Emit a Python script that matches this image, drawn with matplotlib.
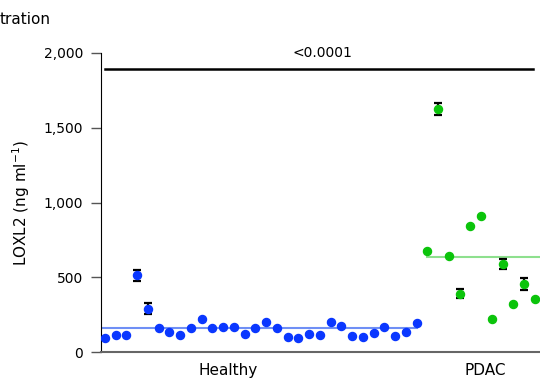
import matplotlib.pyplot as plt
import numpy as np

plt.rcParams['font.family'] = ['DejaVu Sans']

healthy = [94, 116, 116, 513, 290, 158, 136, 116, 158, 221,
           158, 165, 169, 118, 158, 198, 158, 98, 94, 122,
           116, 198, 174, 107, 103, 125, 165, 109, 132, 196]
healthy_err = [0, 0, 0, 38, 35, 0, 0, 0, 0, 0,
               0, 0, 0, 0, 0, 0, 0, 0, 0, 0,
               0, 0, 0, 0, 0, 0, 0, 0, 0, 0]
pdac = [678, 1627, 640, 390, 841, 910, 221, 589, 321, 455, 354]
pdac_err = [0, 40, 0, 32, 0, 0, 0, 32, 0, 38, 0]
group_labels = ['Healthy', 'PDAC']
p_text = '<0.0001'

blue = '#0a37ff'
green = '#0bc40b'

fig = plt.figure(figsize=(5.4, 3.83), dpi=100)
ax = fig.add_axes([101 / 540, 31 / 383, 439 / 540, 299 / 383])

xh = np.arange(len(healthy))
xp = np.arange(len(pdac)) + len(healthy)

ax.errorbar(xh, healthy, yerr=healthy_err, fmt='o', color=blue, ms=5.8,
            ecolor='black', elinewidth=1.6, capsize=3, capthick=1.6, zorder=3)
ax.errorbar(xp, pdac, yerr=pdac_err, fmt='o', color=green, ms=5.8,
            ecolor='black', elinewidth=1.6, capsize=3, capthick=1.6, zorder=3)

# group means
ax.plot([-0.4, xh[-1]], [np.mean(healthy)] * 2, color='#6f8ff5', lw=1.5, zorder=2)
ax.plot([xp[0], 41], [np.mean(pdac)] * 2, color='#8ee08e', lw=1.5, zorder=2)

# significance bar
ax.plot([0, 39.8], [1893, 1893], color='black', lw=1.8, clip_on=False)
ax.text(20.2, 1950, p_text, ha='center', va='bottom', fontsize=10)

ax.set_xlim(-0.37, 40.47)
ax.set_ylim(0, 2000)
ax.set_yticks([0, 500, 1000, 1500, 2000])
ax.set_yticklabels(['0', '500', '1,000', '1,500', '2,000'])
ax.set_xticks([11.5, 35.4])
ax.set_xticklabels(group_labels, fontsize=11)
ax.tick_params(axis='x', length=0, pad=8)
ax.tick_params(axis='y', length=7, width=1, color='#555555', labelsize=10, pad=6)
ax.set_ylabel('LOXL2 (ng ml$^{-1}$)', fontsize=11, labelpad=8)

for s in ['top', 'right']:
    ax.spines[s].set_visible(False)
ax.spines['left'].set_color('black')
ax.spines['bottom'].set_color('#666666')
ax.spines['bottom'].set_linewidth(1.5)

fig.text(0, 1 - 20 / 383, 'tration', ha='left', va='center', fontsize=11)

fig.savefig('out.png', dpi=100)
